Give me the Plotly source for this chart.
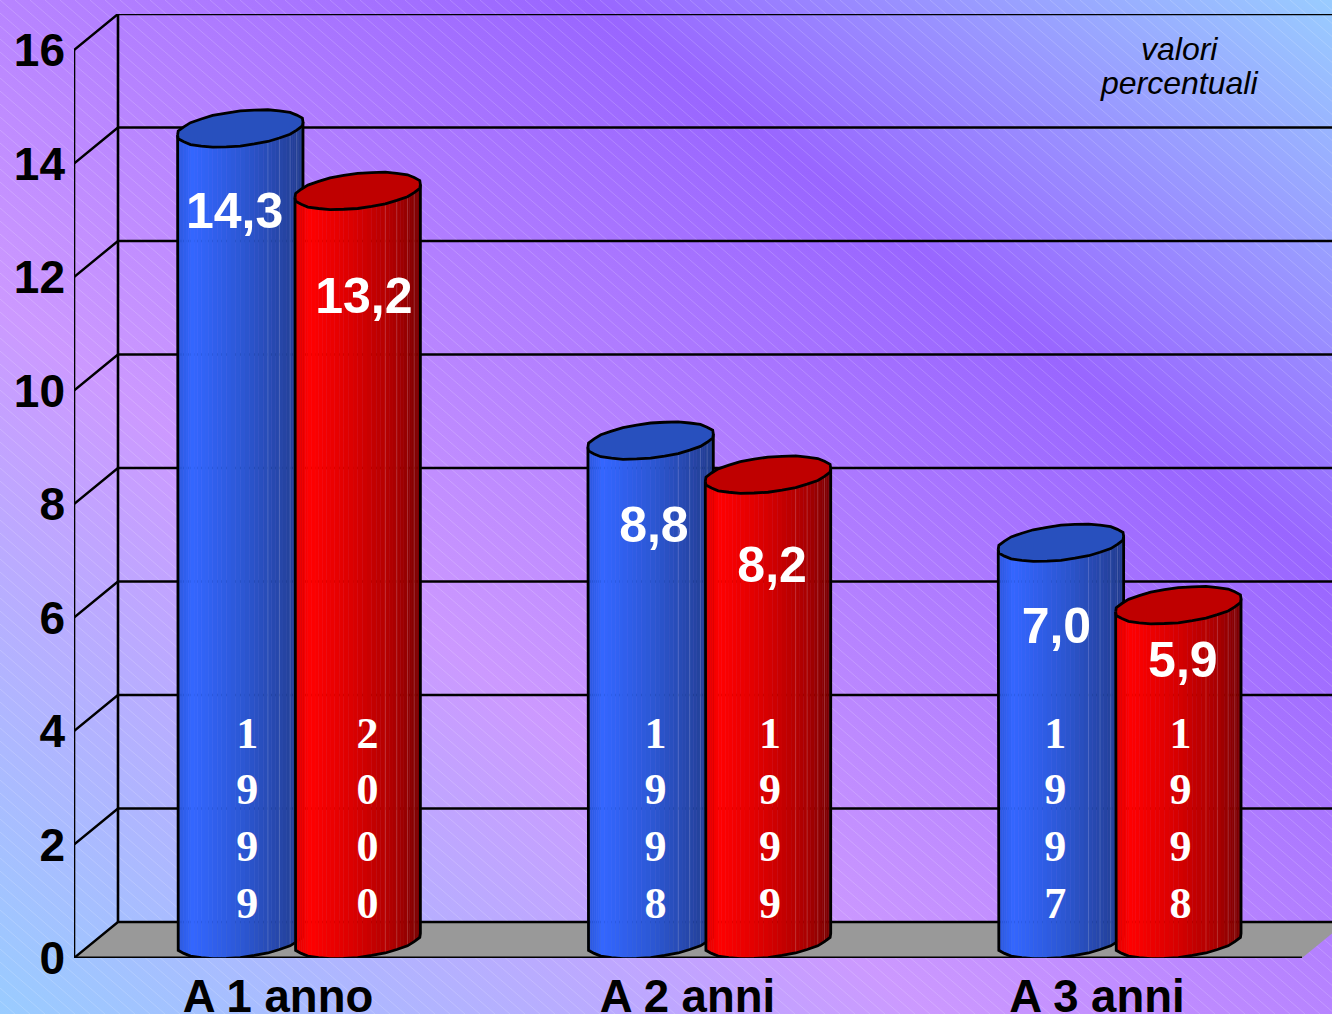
import base64
import math
import plotly.graph_objects as go

# Chart data
categories = ["A 1 anno", "A 2 anni", "A 3 anni"]
first_values = [14.3, 8.8, 7.0]
second_values = [13.2, 8.2, 5.9]
first_years = ["1999", "1998", "1997"]
second_years = ["2000", "1999", "1998"]
value_ticks = [0, 2, 4, 6, 8, 10, 12, 14, 16]
note_lines = ["valori", "percentuali"]

# Page geometry and axis scales
PAGE_W, PAGE_H = 1332, 1014
M_L, M_T, M_B = 74, 14, 56
X_PER_CAT = 409.5
Y_PER_UNIT = 56.75
X_ORIGIN = 278.0
PLOT_W = PAGE_W - M_L
PLOT_H = PAGE_H - M_T - M_B
x_range = [(M_L - X_ORIGIN) / X_PER_CAT, (PAGE_W - X_ORIGIN) / X_PER_CAT]
y_range = [0, PLOT_H / Y_PER_UNIT]

# Depth of the pseudo-3D box, in axis units
DEPTH_X = 44 / X_PER_CAT
DEPTH_Y = 36 / Y_PER_UNIT
FLOOR_RIGHT = (1302 - X_ORIGIN) / X_PER_CAT
FLOOR_LEFT = x_range[0]
FAR_RIGHT = FLOOR_RIGHT + DEPTH_X

# Cylinder shape, in axis units
BAR_HALF = 58.7 / X_PER_CAT
BAR_SHIFT = -1.0 / X_PER_CAT
GROUP_STRETCH = 1.002
LID_TILT_Y = 37 / Y_PER_UNIT
SCALLOP = 0.016
FACETS = 14
SUBSTRIPS = 3

# Hand-placed text offsets per bar (category units / value units)
label_dx = [[-0.014, 0.015], [0.008, 0.010], [-0.011, 0.011]]
label_drop = [[1.525, 1.93], [1.56, 1.68], [1.54, 1.05]]
digit_dx = [[0.017, 0.024], [0.012, 0.005], [-0.014, 0.005]]
digit_levels = [3.90, 2.90, 1.90, 0.90]
note_levels = [16.01, 15.41]

BLUE_STOPS = [(0, (44, 88, 220)), (0.12, (51, 102, 255)), (0.5, (44, 88, 214)),
              (0.82, (38, 70, 168)), (1, (32, 60, 140))]
RED_STOPS = [(0, (226, 0, 0)), (0.12, (255, 0, 0)), (0.5, (214, 0, 0)),
             (0.82, (168, 0, 0)), (1, (120, 0, 0))]
BLUE_TOP = "#2850be"
RED_TOP = "#bf0000"


def ramp(stops, f):
    for (f0, c0), (f1, c1) in zip(stops, stops[1:]):
        if f <= f1:
            k = (f - f0) / (f1 - f0)
            return "rgb(%d,%d,%d)" % tuple(round(a + (b - a) * k) for a, b in zip(c0, c1))
    return "rgb(%d,%d,%d)" % stops[-1][1]


def disc_points(cx, cy, angles):
    # Every other vertex sits slightly outward, which gives the coarse polygon edge
    xs, ys = [], []
    for k, t in enumerate(angles):
        r = 1 + SCALLOP * (k % 2)
        xs.append(cx + r * (BAR_HALF * math.cos(t) + DEPTH_X / 2 * math.sin(t)))
        ys.append(cy + r * LID_TILT_Y / 2 * math.sin(t))
    return xs, ys


fig = go.Figure()


def polygon(xs, ys, fill, line="rgba(0,0,0,0)", width=0):
    fig.add_trace(go.Scatter(x=xs, y=ys, mode="lines", fill="toself", fillcolor=fill,
                             line=dict(color=line, width=width), cliponaxis=False,
                             hoverinfo="skip", showlegend=False))


def stroke(xs, ys, width=2, color="#000000"):
    fig.add_trace(go.Scatter(x=xs, y=ys, mode="lines", line=dict(color=color, width=width),
                             cliponaxis=False, hoverinfo="skip", showlegend=False))


# Floor
polygon([FLOOR_LEFT, FLOOR_RIGHT, FAR_RIGHT, FLOOR_LEFT + DEPTH_X],
        [0, 0, DEPTH_Y, DEPTH_Y], "#999999")

# Back wall gridlines and side wall diagonals
back_x = FLOOR_LEFT + DEPTH_X
for v in value_ticks:
    stroke([FLOOR_LEFT, back_x, x_range[1]], [v, v + DEPTH_Y, v + DEPTH_Y], 2.4)
stroke([FLOOR_LEFT, FLOOR_RIGHT], [0, 0], 3)
stroke([FLOOR_LEFT, FLOOR_LEFT], [0, value_ticks[-1]], 2.6)
stroke([back_x, back_x], [DEPTH_Y, value_ticks[-1] + DEPTH_Y], 2.6)


def cylinder(center, value, stops, top_color):
    cx = center + DEPTH_X / 2
    base = DEPTH_Y / 2
    start = math.atan2(DEPTH_X / 2, BAR_HALF) + math.pi
    front = [start + math.pi * k / FACETS for k in range(FACETS + 1)]
    bx, by = disc_points(cx, base, front)
    left, right = bx[0], bx[-1]

    # Shaded side strips
    for i in range(FACETS):
        for j in range(SUBSTRIPS):
            a, b = j / SUBSTRIPS, (j + 1) / SUBSTRIPS
            x0 = bx[i] + (bx[i + 1] - bx[i]) * a
            x1 = bx[i] + (bx[i + 1] - bx[i]) * b
            y0 = by[i] + (by[i + 1] - by[i]) * a
            y1 = by[i] + (by[i + 1] - by[i]) * b
            colour = ramp(stops, ((x0 + x1) / 2 - left) / (right - left))
            polygon([x0, x1, x1, x0], [y0, y1, y1 + value, y0 + value], colour, colour, 0.8)

    # Faint highlights along facet edges
    for i in range(1, FACETS):
        f = (bx[i] - left) / (right - left)
        if i == 1 or f > 0.65:
            stroke([bx[i], bx[i]], [by[i], by[i] + value], 1, "rgba(255,255,255,0.16)")

    # Outline of the body and the lid
    stroke([left] + bx + [right], [by[0] + value] + by + [by[-1] + value], 2.8)
    loop = [start + 2 * math.pi * k / (2 * FACETS) for k in range(2 * FACETS + 1)]
    tx, ty = disc_points(cx, base + value, loop)
    polygon(tx, ty, top_color, "#000000", 2.8)


labels_x, labels_y, labels_t = [], [], []
digits_x, digits_y, digits_t = [], [], []
for c in range(len(categories)):
    for s, (vals, yrs, stops, top, off) in enumerate([
        (first_values, first_years, BLUE_STOPS, BLUE_TOP, -BAR_HALF),
        (second_values, second_years, RED_STOPS, RED_TOP, BAR_HALF),
    ]):
        center = c * GROUP_STRETCH + off + BAR_SHIFT
        cylinder(center, vals[c], stops, top)
        mid_x = center + DEPTH_X / 2
        labels_x.append(mid_x + label_dx[c][s])
        labels_y.append(vals[c] + DEPTH_Y / 2 - label_drop[c][s])
        labels_t.append(f"{vals[c]:.1f}".replace(".", ","))
        for level, ch in zip(digit_levels, yrs[c]):
            digits_x.append(mid_x + digit_dx[c][s])
            digits_y.append(level)
            digits_t.append(ch)

fig.add_trace(go.Scatter(x=labels_x, y=labels_y, text=labels_t, mode="text",
                         textposition="middle center", cliponaxis=False, hoverinfo="skip",
                         showlegend=False,
                         textfont=dict(family="Liberation Sans", size=50, color="#ffffff", weight="bold")))
fig.add_trace(go.Scatter(x=digits_x, y=digits_y, text=digits_t, mode="text",
                         textposition="middle center", cliponaxis=False, hoverinfo="skip",
                         showlegend=False,
                         textfont=dict(family="Liberation Serif", size=44, color="#ffffff", weight="bold")))

# Page background: diagonal gradient with a fine light hatch
background_svg = f"""<svg xmlns="http://www.w3.org/2000/svg" width="{PAGE_W}" height="{PAGE_H}">
<defs>
<linearGradient id="g" x1="0" y1="1" x2="1" y2="0">
<stop offset="0" stop-color="#99ccff"/>
<stop offset="0.35" stop-color="#cc99ff"/>
<stop offset="0.72" stop-color="#9966ff"/>
<stop offset="1" stop-color="#99ccff"/>
</linearGradient>
<pattern id="h" width="15" height="13" patternUnits="userSpaceOnUse">
<path d="M-15,-13 L30,26" stroke="#ffffff" stroke-opacity="0.17" stroke-width="1"/>
</pattern>
</defs>
<rect width="100%" height="100%" fill="url(#g)"/>
<rect width="100%" height="100%" fill="url(#h)"/>
</svg>"""
background_uri = "data:image/svg+xml;base64," + base64.b64encode(background_svg.encode()).decode()

fig.update_layout(
    width=PAGE_W, height=PAGE_H,
    margin=dict(l=M_L, r=0, t=M_T, b=M_B, autoexpand=False),
    paper_bgcolor="#b080ff", plot_bgcolor="rgba(0,0,0,0)",
    showlegend=False,
    images=[dict(source=background_uri, xref="paper", yref="paper",
                 x=-M_L / PLOT_W, y=1 + M_T / PLOT_H,
                 sizex=PAGE_W / PLOT_W, sizey=PAGE_H / PLOT_H,
                 xanchor="left", yanchor="top", sizing="stretch", layer="below")],
    xaxis=dict(range=x_range, tickmode="array", tickvals=list(range(len(categories))),
               ticktext=categories, showgrid=False, zeroline=False, showline=False, ticks="",
               ticklabelstandoff=7, automargin=False,
               tickfont=dict(family="Liberation Sans", size=45.5, color="#000000", weight="bold")),
    yaxis=dict(range=y_range, tickmode="array", tickvals=value_ticks,
               ticktext=[str(v) for v in value_ticks], showgrid=False, zeroline=False,
               showline=False, ticks="", ticklabelstandoff=8, automargin=False,
               tickfont=dict(family="Liberation Sans", size=46, color="#000000", weight="bold")),
    annotations=[dict(text=line, xref="x", yref="y",
                      x=(1179 - X_ORIGIN) / X_PER_CAT, y=level,
                      showarrow=False, xanchor="center", yanchor="middle", align="center",
                      font=dict(family="Liberation Sans", size=32, color="#000000", style="italic"))
                 for line, level in zip(note_lines, note_levels)],
)

fig.write_html("out.html")
